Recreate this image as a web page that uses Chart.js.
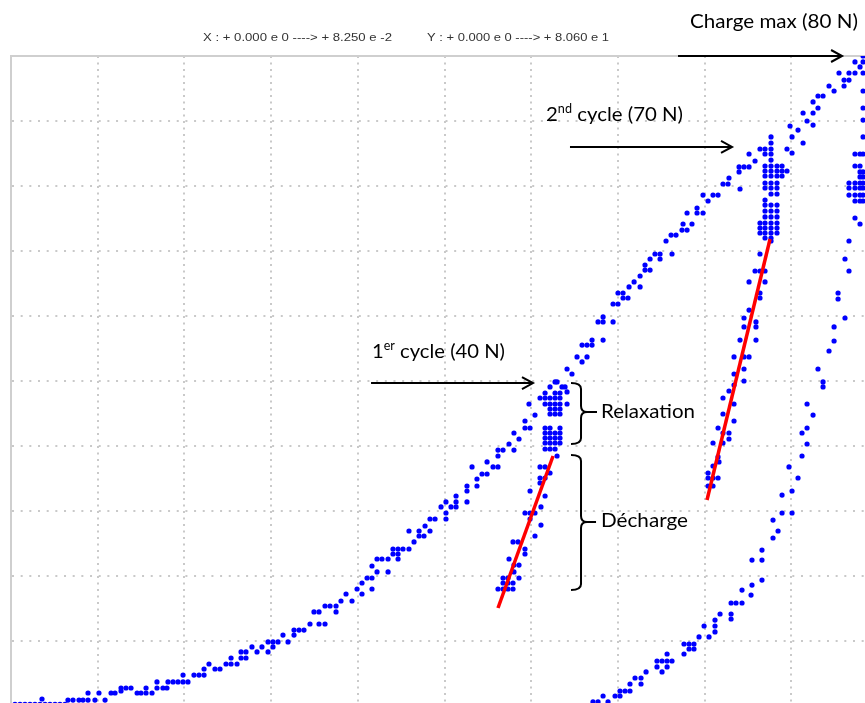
<!DOCTYPE html>
<html><head><meta charset="utf-8">
<script src="https://cdn.jsdelivr.net/npm/chart.js@4"></script>
<style>
html,body{margin:0;padding:0;background:#fff;overflow:hidden;width:865px;height:703px;}
#wrap{position:absolute;left:0;top:0;width:900px;height:720px;}
</style></head><body>
<div id="wrap"><canvas id="c" width="900" height="720"></canvas></div>
<script>
// Full-scale ranges (X : 0 -> 8.250e-2 shown here in 1e-3 units, Y : 0 -> 80.6 N)
const xRange = [0, 82.5];
const yRange = [0, 80.6];
const headerTexts = ['X : + 0.000 e 0 ----> + 8.250 e -2', 'Y : + 0.000 e 0 ----> + 8.060 e 1'];

const charge1 = [
[0.38,0.2],[0.86,0.2],[1.33,0.2],[1.81,0.2],[2.28,0.2],[2.76,0.2],[3.24,0.2],[3.71,0.2],[4.19,0.2],[4.66,0.2],[5.14,0.2],
[2.95,0.87],[5.42,0.74],[5.90,0.74],[6.47,0.74],[6.85,0.74],[7.33,0.74],[7.33,1.61],[7.99,0.74],[8.37,1.61],[8.95,0.74],[9.52,1.61],[9.90,1.61],
[10.47,2.23],[10.94,2.23],[11.42,2.23],[10.47,1.86],[12.0,1.61],[12.37,1.61],[12.85,1.61],[12.85,2.23],[13.42,1.61],[13.89,2.23],[13.89,2.98],
[14.46,2.23],[14.84,2.23],[14.94,2.98],[15.42,2.98],[15.89,2.98],[16.37,2.98],[16.84,2.98],[16.37,3.84],[17.41,3.84],[17.89,3.84],[18.37,3.84],
[18.37,4.59],[18.84,5.21],[19.41,4.59],[19.89,4.59],[20.46,5.21],[20.94,5.21],[20.94,5.95],[21.51,5.21],[21.89,5.95],[22.36,5.95],[21.89,6.70],
[22.36,6.70],[22.93,7.32],[23.41,6.70],[23.88,7.32],[24.46,6.70],[24.46,7.94],[24.93,7.94],[24.93,7.32],[25.41,7.94],[25.88,8.80],[26.36,7.94],
[26.93,9.42],[27.41,9.42],[27.88,9.42],[26.93,8.80],[28.45,10.17],[28.83,11.66],[29.31,11.66],[29.31,10.17],[29.88,10.17],[29.88,12.40],
[30.36,12.40],[30.93,12.40],[30.93,11.66],[31.40,13.02],[31.88,13.89],[32.45,13.02],[32.93,14.51],[33.40,15.25],[33.40,13.89],[33.88,15.87],
[34.35,15.87],[34.35,14.51],[34.35,17.36],[34.83,16.62],[34.83,18.23],[35.30,18.23],[35.88,18.23],[35.88,16.62],[36.35,18.85],[36.83,18.85],
[36.35,19.47],[36.83,19.47],[37.30,19.47],[36.83,18.23],[37.87,19.47],[37.87,21.70],[38.35,20.34],[38.83,21.70],[38.83,21.08],[39.30,21.08],
[39.40,22.32],[39.87,21.70],[39.87,23.19],[40.35,23.19],[40.92,24.68],[41.39,25.30],[41.39,23.93],[41.39,23.19],[41.87,24.68],[42.35,24.68],
[42.35,25.30],[42.35,26.04],[43.39,25.30],[43.39,27.28],[43.39,26.66],[43.87,29.64],[44.34,28.15],[44.34,27.28],[44.82,28.77],[45.30,28.77],
[45.30,30.26],[45.87,29.64],[46.34,29.64],[46.34,31.00],[46.34,31.74],[46.82,31.74],[47.39,32.49],[47.86,31.74],[47.86,33.85],[48.34,33.11],
[48.91,34.47],[49.39,34.47],[48.91,35.34],[49.29,37.45],[49.86,36.08],[50.34,38.19]
];
const relax1 = [
[50.82,38.19],[51.29,38.19],[51.77,38.19],[52.24,38.19],
[50.82,38.81],[51.77,38.81],[52.24,38.81],
[51.29,39.56],[51.96,40.18],[52.43,39.56],[52.91,38.94],
[50.82,37.45],[51.29,37.45],[51.77,37.45],[52.24,37.45],[52.91,37.45],
[51.29,36.83],[51.77,36.83],[52.24,36.83],
[51.29,36.21],[51.77,36.21],[52.24,36.21],
[50.82,34.47],[51.29,34.47],[52.24,34.47],
[50.82,33.85],[51.29,33.85],[51.77,33.85],[52.24,33.85],
[50.82,33.23],[51.29,33.23],[51.77,33.23],[52.24,33.23],
[50.82,32.61],[51.29,32.61],[51.77,32.61],[52.24,32.61],
[50.82,31.87],[51.29,31.87],[51.77,31.87],
[51.96,31.00]
];
const decharge1 = [
[50.34,29.64],[50.82,29.64],[51.29,28.89],[50.34,28.27],[50.82,28.27],[50.34,27.65],[49.39,26.66],[50.82,26.04],[50.43,24.68],[48.91,23.93],
[49.39,23.93],[49.86,23.93],[49.39,23.19],[50.43,22.44],[49.86,21.08],[47.77,20.34],[48.25,20.34],[48.91,19.47],[48.91,18.85],[47.39,18.23],
[47.86,17.48],[48.34,17.48],[47.86,16.62],[48.34,15.87],[46.82,15.87],[47.29,15.87],[46.82,15.25],[47.29,15.25],[47.77,15.25],[46.34,14.51],
[46.82,14.51],[47.29,14.51],[47.77,14.51]
];
const charge2 = [
[51.77,40.18],[52.72,39.56],[52.91,41.79],[53.38,41.17],[53.86,43.28],[54.34,42.66],[54.81,43.28],[54.34,44.76],[54.81,44.76],[55.29,44.76],
[55.29,45.38],[56.34,45.38],[55.86,47.62],[56.34,47.62],[56.34,48.24],[57.29,47.62],[57.29,49.85],[57.76,49.85],[57.76,51.21],[58.24,51.21],
[58.24,50.59],[58.71,50.59],[58.81,51.96],[59.29,52.58],[59.86,51.96],[59.86,53.32],[60.33,54.06],[60.81,54.06],[60.33,54.68],[60.81,55.43],
[61.28,56.05],[61.76,56.05],[61.76,55.43],[62.90,56.05],[62.33,57.66],[62.81,58.40],[63.28,58.40],[63.85,59.02],[64.33,59.02],[63.95,59.77],
[64.80,59.77],[64.33,61.13],[65.28,61.13],[65.85,61.13],[65.28,61.75],[65.85,63.36],[66.33,62.62],[66.80,63.36],[67.28,63.36],[67.75,64.73],
[68.23,64.73],[68.32,65.47],[69.37,64.11],[69.28,66.22],[69.28,66.84],[69.75,66.84],[70.23,66.84],[70.23,68.45],[70.80,67.58]
];
const relax2 = [
[72.32,70.56],[72.32,69.81],
[71.27,69.07],[71.75,69.07],[72.32,69.07],
[71.75,68.45],[72.32,68.45],
[72.32,67.70],
[71.75,66.96],[72.32,66.96],[72.89,66.96],[73.37,66.96],
[71.75,66.34],[72.32,66.34],[72.89,66.34],[73.37,66.34],[73.84,66.34],
[71.75,65.72],[72.32,65.72],[72.89,65.72],[73.37,65.72],
[71.75,64.85],[72.32,64.85],[72.89,64.85],
[71.75,64.23],[72.32,64.23],[72.89,64.23],
[72.32,63.49],[72.89,63.49],
[71.75,62.74],
[71.75,62.12],[72.32,62.12],[72.89,62.12],
[71.75,61.38],[72.32,61.38],[72.89,61.38],
[71.75,60.64],[72.32,60.64],[72.89,60.64],
[71.27,59.89],[71.75,59.89],[72.32,59.89],[72.89,59.89],
[71.27,59.27],[71.75,59.27],[72.32,59.27],[72.89,59.27],
[71.27,58.65],[71.75,58.65],[72.32,58.65],[72.89,58.65],
[71.75,58.03],[72.32,58.03]
];
const decharge2 = [
[72.32,57.66],[71.27,56.05],[70.80,53.94],[71.27,53.94],[71.75,53.94],[70.23,52.58],[71.75,52.58],[71.27,51.21],[71.27,50.59],[70.23,49.10],
[69.75,48.11],[70.89,47.62],[70.89,47.00],[69.75,47.00],[70.89,45.38],[69.37,45.38],[68.80,43.28],[69.75,43.28],[70.23,43.28],[69.75,41.79],
[68.80,41.17],[69.75,40.30],[68.80,39.80],[68.32,39.06],[67.75,38.19],[68.80,37.45],[67.75,36.21],[68.80,35.34],[67.28,34.47],[67.75,33.85],
[68.32,33.85],[68.32,33.11],[66.80,32.61],[67.75,32.61],[67.28,30.88],[67.37,30.26],[66.80,29.76],[66.33,28.89],[66.33,28.27],[66.80,28.27],
[67.28,28.27],[66.33,27.28],[66.80,27.28]
];
const charge3 = [
[73.84,69.07],[74.32,68.57],[74.13,71.92],[74.32,70.56],[74.89,71.42],[75.37,69.81],[75.37,73.53],[75.75,72.54],[76.32,74.90],[76.32,73.53],
[76.79,74.15],[76.32,72.04],[76.79,75.64],[77.27,75.64],[77.84,76.88],[78.32,76.26],[78.79,78.49],[79.27,76.88],[79.27,77.62],[79.74,77.62],
[79.74,78.49],[80.31,78.49],[80.31,79.86],[80.79,79.24],[81.08,80.60]
];
const relax3 = [
[81.08,79.86],[81.08,78.49],[81.08,76.26],[81.08,74.15],[81.08,72.66],[81.08,70.56],
[80.31,68.45],[80.79,68.45],[81.08,68.45],
[80.31,66.96],[80.79,66.96],
[80.79,66.22],[81.08,66.22],
[80.79,65.60],[81.08,65.60],
[79.74,64.85],[80.31,64.85],[80.79,64.85],[81.08,64.85],
[79.74,64.23],[80.31,64.23],[80.79,64.23],[81.08,64.23],
[79.74,63.36],[80.31,63.36],[80.79,63.36],[81.08,63.36],
[80.31,62.62],[80.79,62.62],[81.08,62.62]
];
const decharge3 = [
[80.31,60.51],[80.79,59.77],[79.74,57.66],[79.36,55.43],[79.74,53.94],[78.70,51.21],[78.70,50.47],[79.36,48.11],[78.32,47.00],[78.32,45.26],
[77.84,44.02],[76.79,41.79],[77.27,40.18],[77.27,39.56],[75.75,37.45],[76.32,36.08],[75.75,34.47],[75.27,33.85],[75.75,32.49],[75.27,31.00],
[74.03,29.64],[74.89,28.27],[74.32,26.66],[73.37,26.16],[74.32,23.93],[73.37,23.93],[72.51,23.06],[72.99,21.70],[72.51,20.83],[71.46,19.34],
[70.51,18.10],[71.46,18.10],[71.46,15.62],[70.51,15.00],[69.56,14.38],[70.42,13.76],[68.52,12.77],[68.99,12.77],[69.56,12.77],[68.52,11.41],
[68.52,10.79],[67.47,11.41],[66.99,10.66],[66.99,9.92],[66.99,9.18],[66.42,8.56],[65.95,9.92],[65.47,8.56],[64.99,7.69],[64.52,7.69],
[64.04,7.69],[64.99,7.07],[64.52,7.07],[64.04,6.45],[62.90,5.58],[62.43,5.58],[62.43,4.84],[62.43,6.45],[61.95,5.58],[61.47,5.58],
[61.47,4.84],[61.95,4.22],[60.43,4.22],[59.95,3.47],[59.95,2.73],[59.38,3.47],[58.90,2.73],[58.43,1.86],[58.90,1.86],[57.95,1.86],
[57.95,1.24],[57.48,1.24],[56.81,0.50],[56.34,1.24],[55.86,0.50],[55.38,0.50]
];
// red fitted discharge slopes
const fitLine1 = [[46.34,12.15],[51.58,31.00]];
const fitLine2 = [[66.23,25.54],[72.23,57.91]];

// ---- annotations (anchors in data units) ----
const arrowsCfg = [
  {y:80.6, x0:63.47, x1:79.08},
  {y:69.32, x0:53.19, x1:68.61},
  {y:40.05, x0:34.26, x1:49.67}
];
const labelsCfg = [
  {parts:[{t:'Charge max (80 N)'}], x:64.61, y:84.07, w:168},
  {parts:[{t:'2'},{t:'nd',sup:true},{t:' cycle (70 N)'}], x:50.91, y:72.54, w:137},
  {parts:[{t:'1'},{t:'er',sup:true},{t:' cycle (40 N)'}], x:34.35, y:43.15, w:133},
  {parts:[{t:'Relaxation'}], x:56.14, y:35.71, w:94},
  {parts:[{t:'Décharge'}], x:56.14, y:22.20, w:87}
];
const bracesCfg = [
  {xb:53.29, xv:54.24, xt:55.76, yt:40.05, ym:36.46, yb:32.49},
  {xb:53.29, xv:54.24, xt:55.67, yt:31.12, ym:22.82, yb:14.38}
];
const headerCfg = [
  {t:headerTexts[0], x:18.27, y:82.46, w:189},
  {t:headerTexts[1], x:39.59, y:82.46, w:182}
];

const toXY = a => a.map(p => ({x:p[0], y:p[1]}));
const BLUE = '#0000ff';
const dotDs = (label, arr) => ({label, data: toXY(arr), showLine:false, pointRadius:2.6, pointHoverRadius:2.6,
  pointBackgroundColor:BLUE, pointBorderWidth:0, pointBorderColor:BLUE, order:2});
const lineDs = (label, arr) => ({label, data: toXY(arr), showLine:true, pointRadius:0, borderColor:'#ff0000',
  borderWidth:3.5, order:1, borderCapStyle:'butt'});

function drawFitted(ctx, parts, x, y, width, size, family, color){
  let total = 0;
  parts.forEach(p => {
    const s = p.sup ? size*0.62 : size;
    ctx.font = s + 'px ' + family;
    p._w = ctx.measureText(p.t).width; p._s = s; total += p._w;
  });
  const k = width/total;
  ctx.save();
  ctx.translate(x, y); ctx.scale(k, 1);
  ctx.fillStyle = color; ctx.textBaseline = 'alphabetic'; ctx.textAlign = 'left';
  let cx = 0;
  parts.forEach(p => {
    ctx.font = p._s + 'px ' + family;
    ctx.fillText(p.t, cx, p.sup ? -size*0.42 : 0);
    cx += p._w;
  });
  ctx.restore();
}

const annotPlugin = {
  id:'annot',
  afterDatasetsDraw(chart){
    const ctx = chart.ctx, X = chart.scales.x, Y = chart.scales.y;
    const px = v => X.getPixelForValue(v), py = v => Y.getPixelForValue(v);
    ctx.save();
    ctx.strokeStyle = '#000'; ctx.lineWidth = 2; ctx.lineCap = 'butt'; ctx.lineJoin = 'miter';
    arrowsCfg.forEach(a => {
      const y = py(a.y), x0 = px(a.x0), x1 = px(a.x1);
      ctx.beginPath(); ctx.moveTo(x0, y); ctx.lineTo(x1 - 1, y); ctx.stroke();
      ctx.beginPath(); ctx.moveTo(x1 - 11, y - 6); ctx.lineTo(x1, y); ctx.lineTo(x1 - 11, y + 6); ctx.stroke();
    });
    ctx.lineWidth = 2;
    bracesCfg.forEach(b => {
      const xb = px(b.xb), xv = px(b.xv), xt = px(b.xt), yt = py(b.yt), ym = py(b.ym), yb = py(b.yb), r = 6;
      ctx.beginPath();
      ctx.moveTo(xb, yt);
      ctx.quadraticCurveTo(xv, yt, xv, yt + r);
      ctx.lineTo(xv, ym - r);
      ctx.quadraticCurveTo(xv, ym, xv + r, ym);
      ctx.lineTo(xt, ym);
      ctx.moveTo(xv + r, ym);
      ctx.quadraticCurveTo(xv, ym, xv, ym + r);
      ctx.lineTo(xv, yb - r);
      ctx.quadraticCurveTo(xv, yb, xb, yb);
      ctx.stroke();
    });
    ctx.restore();
    labelsCfg.forEach(l => drawFitted(ctx, l.parts, px(l.x), py(l.y), l.w, 20, 'Lato, "Open Sans", sans-serif', '#000'));
    headerCfg.forEach(h => drawFitted(ctx, [{t:h.t}], px(h.x), py(h.y), h.w, 11, '"Liberation Sans", Arial, sans-serif', '#333'));
  }
};

const GRID = '#c9c9c9';
new Chart(document.getElementById('c'), {
  type:'scatter',
  data:{ datasets:[
    lineDs('fit1', fitLine1), lineDs('fit2', fitLine2),
    dotDs('charge1', charge1), dotDs('relax1', relax1), dotDs('decharge1', decharge1),
    dotDs('charge2', charge2), dotDs('relax2', relax2), dotDs('decharge2', decharge2),
    dotDs('charge3', charge3), dotDs('relax3', relax3), dotDs('decharge3', decharge3)
  ]},
  options:{
    responsive:false, animation:false, devicePixelRatio:1,
    layout:{padding:{left:11, top:56, right:22, bottom:14}},
    plugins:{legend:{display:false}, tooltip:{enabled:false}, title:{display:false}},
    scales:{
      x:{type:'linear', position:'bottom', min:xRange[0], max:xRange[1],
         ticks:{display:false, stepSize:(xRange[1]-xRange[0])/10},
         grid:{color:GRID, lineWidth:2, drawTicks:false},
         border:{display:false, dash:[2,4.5]},
         afterFit: s => { s.height = 0; }},
      xTop:{type:'linear', position:'top', min:xRange[0], max:xRange[1],
         ticks:{display:false}, grid:{display:false, drawTicks:false},
         border:{display:true, color:'#cfcfcf', width:2},
         afterFit: s => { s.height = 0; }},
      y:{type:'linear', position:'left', min:yRange[0], max:yRange[1],
         ticks:{display:false, stepSize:(yRange[1]-yRange[0])/10},
         grid:{color:GRID, lineWidth:2, drawTicks:false},
         border:{display:true, color:'#cfcfcf', width:2, dash:[2,6.67]},
         afterFit: s => { s.height = 0; s.width = 0; }}
    }
  },
  plugins:[annotPlugin]
});
</script>
</body></html>
